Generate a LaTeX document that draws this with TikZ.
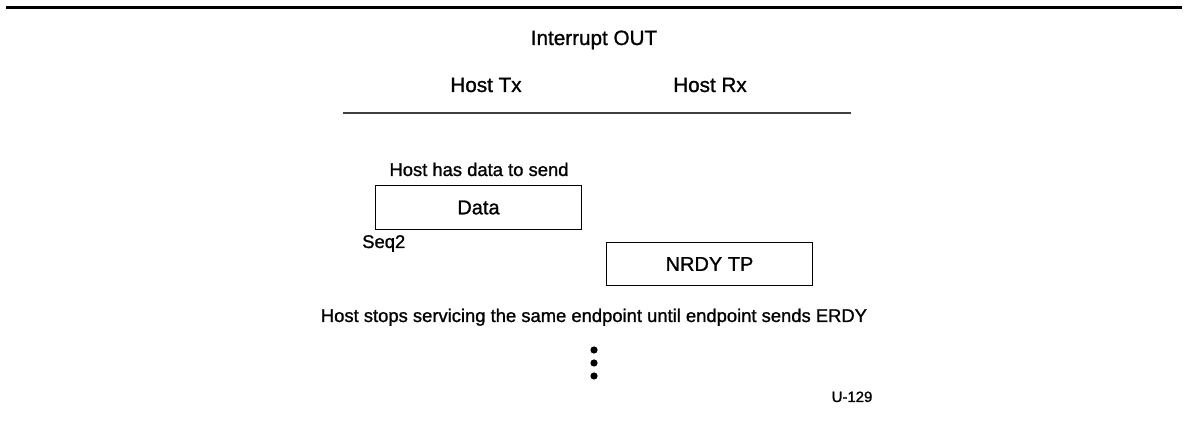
\documentclass[tikz,border=0pt]{standalone}
\usepackage{fontspec}
\setmainfont{Liberation Sans}[FakeBold=1.1]
\usetikzlibrary{positioning}
\definecolor{ink}{HTML}{000000}
\definecolor{rulegray}{HTML}{404040}

\begin{document}
\begin{tikzpicture}[x=0.75pt, y=-0.75pt,
  head/.style={anchor=base, inner sep=0pt, font=\fontsize{15.5}{18}\selectfont},
  note/.style={anchor=base, inner sep=0pt, font=\fontsize{13.8}{16}\selectfont},
  pkt/.style={draw=ink, line width=0.8pt, minimum width=155pt, minimum height=32.5pt,
    inner sep=0pt, font=\fontsize{15}{17}\selectfont}]

% Frame
\useasboundingbox (0,0) rectangle (1188,423);
\draw[ink, line width=1.6pt] (6,7.5) -- (1182,7.5);

% Title and column heads
\node[head] (title) at (594,45) {Interrupt OUT};
\node[head] (hosttx) at (486,92) {Host Tx};
\node[head] (hostrx) at (710,92) {Host Rx};
\draw[rulegray, line width=1pt] (343,113) -- (851,113);

% Packets
\node[note] (hasdata) at (479,176) {Host has data to send};
\node[pkt] (data) at (478.5,207.5) {Data};
\node[note, anchor=base west] (seq) at (362,248) {Seq2};
\node[pkt] (nrdy) at (709.5,264) {NRDY TP};

% Note and continuation
\node[note] (stops) at (594,322)
  {Host stops servicing the same endpoint until endpoint sends ERDY};
\foreach \y in {350,363,376}
  \fill[ink] (594,\y) circle (3.6);
\node[note, font=\fontsize{11.2}{13}\selectfont] (fig) at (852,402) {U-129};

\end{tikzpicture}
\end{document}
